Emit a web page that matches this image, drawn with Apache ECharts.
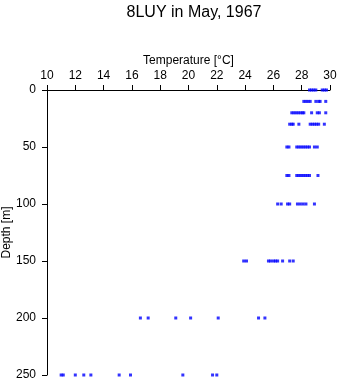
<!DOCTYPE html>
<html><head><meta charset="utf-8">
<script src="https://cdn.jsdelivr.net/npm/echarts@6/dist/echarts.min.js"></script>
<style>html,body{margin:0;padding:0;background:#fff}#c{width:341px;height:384px}</style>
</head><body><div id="c"></div>
<script>
const titleText = '8LUY in May, 1967';
const depths = [0, 10, 20, 30, 50, 75, 100, 150, 200, 250];
const t0   = [28.55, 28.7, 28.85, 29.0, 29.45, 29.6, 29.75];
const t10  = [28.15, 28.3, 28.45, 28.6, 29.0, 29.2, 29.3, 29.7];
const t20  = [27.3, 27.45, 27.6, 27.75, 27.9, 28.05, 28.15, 28.7, 29.1, 29.25, 29.7];
const t30  = [27.15, 27.3, 27.4, 27.8, 28.6, 28.75, 28.9, 29.05, 29.2, 29.6];
const t50  = [26.95, 27.1, 27.65, 27.8, 27.95, 28.1, 28.25, 28.4, 28.55, 28.9, 29.1];
const t75  = [26.95, 27.1, 27.65, 27.8, 27.95, 28.1, 28.25, 28.4, 28.55, 29.15];
const t100 = [26.3, 26.55, 27.0, 27.15, 27.7, 27.9, 28.1, 28.3, 28.9];
const t150 = [23.9, 24.1, 25.65, 25.8, 26.0, 26.15, 26.3, 26.65, 27.15, 27.4];
const t200 = [16.6, 17.15, 19.1, 20.15, 22.1, 24.95, 25.4];
const t250 = [11.0, 11.15, 12.0, 12.6, 13.1, 15.1, 15.9, 19.6, 21.7, 22.0];
const tempsByDepth = [t0, t10, t20, t30, t50, t75, t100, t150, t200, t250];

const points = [];
depths.forEach((d, i) => tempsByDepth[i].forEach(t => points.push([t, d])));

const font = 'Liberation Sans, Arial, sans-serif';
const chart = echarts.init(document.getElementById('c'), null, {renderer: 'canvas'});
chart.setOption({
  animation: false,
  title: {text: titleText, left: 189, top: 0, textAlign: 'center',
    textStyle: {fontFamily: font, fontSize: 16, fontWeight: 'normal', color: '#000'}},
  grid: {left: 47, right: 11, top: 90, bottom: 9, containLabel: false, outerBoundsMode: 'none'},
  xAxis: {
    type: 'value', position: 'top', min: 10, max: 30, interval: 2,
    name: 'Temperature [°C]', nameLocation: 'middle', nameGap: 23, nameMoveOverlap: false,
    nameTextStyle: {fontFamily: font, fontSize: 12, color: '#000'},
    axisLine: {show: true, lineStyle: {color: '#000', width: 1}},
    axisTick: {show: true, length: 5, lineStyle: {color: '#000'}},
    axisLabel: {fontFamily: font, fontSize: 12, color: '#000', margin: 8},
    splitLine: {show: false}
  },
  yAxis: {
    type: 'value', inverse: true, min: 0, max: 250, interval: 50,
    name: 'Depth [m]', nameLocation: 'middle', nameGap: 34, nameRotate: 90, nameMoveOverlap: false,
    nameTextStyle: {fontFamily: font, fontSize: 12, color: '#000'},
    axisLine: {show: true, lineStyle: {color: '#000', width: 1}},
    axisTick: {show: true, length: 5, lineStyle: {color: '#000'}},
    axisLabel: {fontFamily: font, fontSize: 12, color: '#000', margin: 11},
    splitLine: {show: false}
  },
  series: [{
    type: 'scatter', data: points, symbol: 'rect', symbolSize: 3,
    itemStyle: {color: '#0000ff'}
  }]
});
</script></body></html>
